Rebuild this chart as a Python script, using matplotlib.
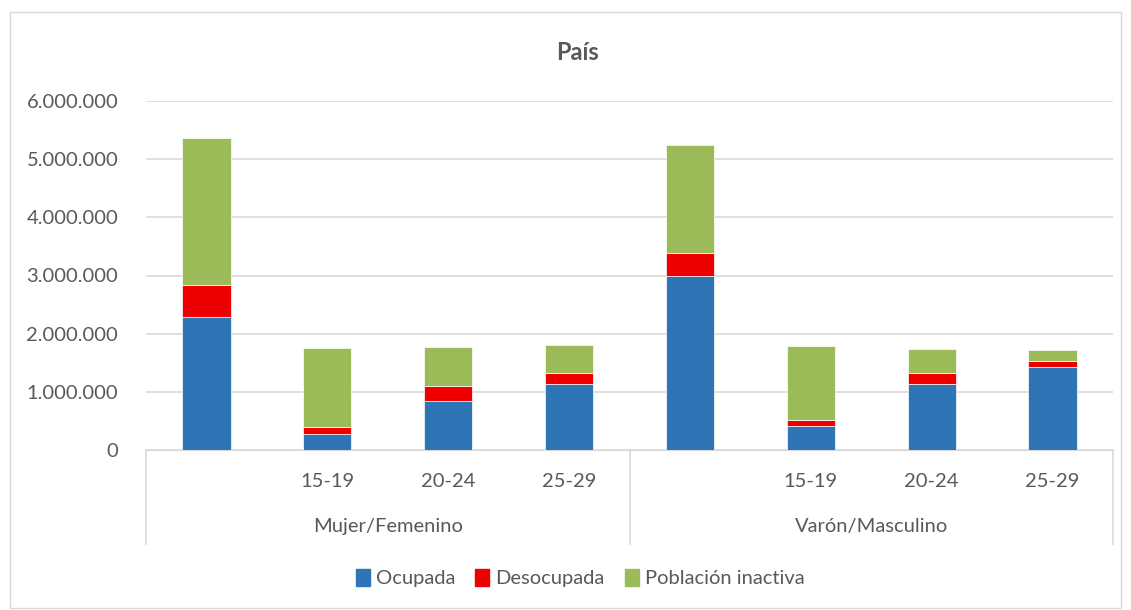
import matplotlib.pyplot as plt
import matplotlib.patches as mpatches
import matplotlib.ticker as mticker
import numpy as np

plt.rcParams['font.family'] = ['Lato', 'DejaVu Sans']

# datos (personas)
edades = ['', '15-19', '20-24', '25-29', '', '15-19', '20-24', '25-29']
grupos = ['Mujer/Femenino', 'Varón/Masculino']
ocupada = [2280000, 270000, 840000, 1140000, 2990000, 410000, 1130000, 1420000]
desocupada = [560000, 130000, 260000, 190000, 400000, 110000, 200000, 110000]
inactiva = [2530000, 1360000, 670000, 480000, 1850000, 1260000, 400000, 190000]

c_ocu = '#2e75b6'
c_des = '#ee0000'
c_ina = '#9bbb59'
txt = '#595959'
grid = '#d9d9d9'
fs = 14.5

fig = plt.figure(figsize=(11.31, 6.10), dpi=100)
fig.patches.append(mpatches.Rectangle((10/1131, 2/610), 1111/1131, 596/610,
                                      transform=fig.transFigure, fill=False,
                                      edgecolor=grid, lw=1))
ax = fig.add_axes([146/1131, 1 - 450/610, 967/1131, 349/610])

x = np.arange(len(edades))
w = 0.4
ocu = np.array(ocupada)
des = np.array(desocupada)
ina = np.array(inactiva)
ax.bar(x, ocu, w, color=c_ocu, edgecolor='white', linewidth=0.5, zorder=3)
ax.bar(x, des, w, bottom=ocu, color=c_des, edgecolor='white', linewidth=0.5, zorder=3)
ax.bar(x, ina, w, bottom=ocu + des, color=c_ina, edgecolor='white', linewidth=0.5, zorder=3)

ax.set_xlim(-0.5, len(edades) - 0.5)
ax.set_ylim(0, 6000000)
ax.set_yticks(np.arange(0, 6000001, 1000000))
ax.yaxis.set_major_formatter(mticker.FuncFormatter(lambda v, p: f'{int(v):,}'.replace(',', '.')))
ax.tick_params(axis='y', length=0, labelsize=fs, labelcolor=txt, pad=20)
ax.set_xticks([])
ax.grid(axis='y', color=grid, lw=1.2, zorder=0)
for s in ['top', 'right', 'left']:
    ax.spines[s].set_visible(False)
ax.spines['bottom'].set_color(grid)

# etiquetas de eje en dos niveles
for i, lab in enumerate(edades):
    ax.text(i, -0.09, lab, transform=ax.get_xaxis_transform(), ha='center', va='center',
            fontsize=fs, color=txt)
for g, nombre in enumerate(grupos):
    ax.text(g * 4 + 1.5, -0.22, nombre, transform=ax.get_xaxis_transform(), ha='center',
            va='center', fontsize=fs, color=txt)
for xs in [-0.5, 3.5, 7.5]:
    ax.plot([xs, xs], [0, -0.27], transform=ax.get_xaxis_transform(), color=grid,
            lw=1.2, clip_on=False)

fig.text(577/1131, 1 - 52/610, 'País', ha='center', va='center', fontsize=17,
         fontweight='bold', color=txt)

handles = [mpatches.Patch(color=c_ocu, label='Ocupada'),
           mpatches.Patch(color=c_des, label='Desocupada'),
           mpatches.Patch(color=c_ina, label='Población inactiva')]
fig.legend(handles=handles, loc='center', bbox_to_anchor=(580/1131, 1 - 578/610), ncol=3,
           frameon=False, fontsize=fs, handlelength=0.7, handleheight=0.9,
           handletextpad=0.3, columnspacing=1.0, labelcolor=txt)

fig.savefig('out.png', dpi=100, facecolor='white')
